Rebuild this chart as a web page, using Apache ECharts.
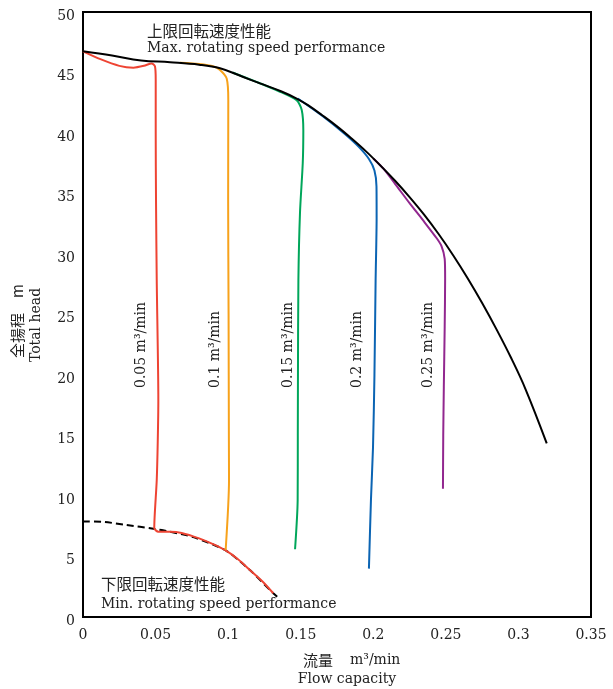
<!DOCTYPE html>
<html>
<head>
<meta charset="utf-8">
<script src="https://cdn.jsdelivr.net/npm/echarts@6/dist/echarts.min.js"></script>
<style>
html,body{margin:0;padding:0;background:#fff;}
#chart{width:613px;height:689px;}
</style>
</head>
<body>
<div id="chart"></div>
<script>
// ---- data ----
const xTickLabels = ['0','0.05','0.1','0.15','0.2','0.25','0.3','0.35'];
const yTickLabels = ['0','5','10','15','20','25','30','35','40','45','50'];

const maxCurve = [[0,46.75],[0.02,46.4],[0.04,46.0],[0.06,45.85],[0.08,45.65],[0.0944,45.35],[0.11,44.65],[0.122,44.1],[0.1364,43.45],[0.1472,42.85],[0.155,42.3],[0.165,41.45],[0.175,40.55],[0.185,39.55],[0.195,38.48],[0.205,37.3],[0.215,36.05],[0.225,34.7],[0.235,33.25],[0.245,31.65],[0.255,29.9],[0.265,28.0],[0.275,25.95],[0.285,23.75],[0.295,21.4],[0.305,18.8],[0.3195,14.35]];
const minCurve = [[0,7.9],[0.015,7.85],[0.03,7.6],[0.0485,7.3],[0.06,7.05],[0.076,6.6],[0.0983,5.5],[0.115,3.88],[0.1311,1.96],[0.134,1.65]];

const flow005 = [[0,46.75],[0.012,46.1],[0.025,45.55],[0.0347,45.4],[0.042,45.55],[0.0473,45.75],[0.0496,45.5],[0.0501,44.4],[0.0501,40],[0.0503,34.5],[0.0508,27.85],[0.0519,17.9],[0.0515,14.5],[0.0508,11.3],[0.0491,7.35],[0.0519,7.05],[0.06,7.05],[0.068,6.95],[0.08,6.5],[0.09,6.0],[0.0983,5.5],[0.107,4.75],[0.115,3.88],[0.1235,2.95],[0.1311,1.96]];
const flow010 = [[0.0668,45.8],[0.08,45.7],[0.09,45.5],[0.0944,45.2],[0.099,44.5],[0.1001,42.7],[0.1,34.5],[0.1003,25],[0.1005,15],[0.1006,11.3],[0.0983,5.55]];
const flow015 = [[0.103,45.0],[0.12,44.2],[0.135,43.45],[0.1472,42.7],[0.1507,41.9],[0.1518,40.2],[0.1514,37.5],[0.1495,33.4],[0.1484,27.85],[0.1481,20],[0.148,15],[0.1479,9.67],[0.1461,5.6]];
const flow020 = [[0.148,42.85],[0.165,41.4],[0.18,39.95],[0.19,38.85],[0.197,37.85],[0.2008,36.9],[0.2022,35.6],[0.2023,33],[0.2016,27.8],[0.2008,20],[0.1998,14],[0.1984,9.7],[0.197,4.0]];
const flow025 = [[0.2,37.9],[0.207,37.05],[0.215,35.8],[0.225,34.2],[0.2345,32.75],[0.2437,31.3],[0.247,30.65],[0.2492,29.6],[0.2495,28],[0.2492,24],[0.2486,19],[0.2482,15],[0.248,10.6]];

const flowLabels = ['0.05 m³/min','0.1 m³/min','0.15 m³/min','0.2 m³/min','0.25 m³/min'];

// ---- chart ----
const SERIF = '"DejaVu Serif", "Liberation Serif", serif';
const CJK = '"Noto Sans CJK JP", sans-serif';
const TXT = '#222';
const chart = echarts.init(document.getElementById('chart'), null, {renderer:'canvas'});

function line(name, data, color, extra) {
  return Object.assign({
    name, type:'line', data, showSymbol:false, smooth:0.25,
    lineStyle:{color, width:2}, itemStyle:{color}, silent:true, animation:false
  }, extra || {});
}

const flowLabelX = [141.5, 215, 288, 357.5, 428];
const graphics = [];
flowLabels.forEach((t,i)=>{
  graphics.push({type:'text', x:flowLabelX[i], y:388, rotation:Math.PI/2,
    style:{text:t, font:'14px '+SERIF, fill:TXT, textAlign:'left', textVerticalAlign:'middle'}});
});
graphics.push(
  {type:'text', x:147, y:31, style:{text:'上限回転速度性能', font:'15.5px '+CJK, fill:TXT, textAlign:'left', textVerticalAlign:'middle'}},
  {type:'text', x:147, y:48, style:{text:'Max. rotating speed performance', font:'14px '+SERIF, fill:TXT, textAlign:'left', textVerticalAlign:'middle'}},
  {type:'text', x:101, y:584, style:{text:'下限回転速度性能', font:'15.5px '+CJK, fill:TXT, textAlign:'left', textVerticalAlign:'middle'}},
  {type:'text', x:101, y:604, style:{text:'Min. rotating speed performance', font:'14px '+SERIF, fill:TXT, textAlign:'left', textVerticalAlign:'middle'}},
  {type:'text', x:17.5, y:321, rotation:Math.PI/2, style:{text:'全揚程　m', font:'15px '+CJK, fill:TXT, textAlign:'center', textVerticalAlign:'middle'}},
  {type:'text', x:36.5, y:325, rotation:Math.PI/2, style:{text:'Total head', font:'14px '+SERIF, fill:TXT, textAlign:'center', textVerticalAlign:'middle'}},
  {type:'text', x:348, y:660, style:{text:'流量　', font:'15px '+CJK, fill:TXT, textAlign:'right', textVerticalAlign:'middle'}},
  {type:'text', x:350, y:660, style:{text:'m³/min', font:'14px '+SERIF, fill:TXT, textAlign:'left', textVerticalAlign:'middle'}},
  {type:'text', x:347, y:679, style:{text:'Flow capacity', font:'14px '+SERIF, fill:TXT, textAlign:'center', textVerticalAlign:'middle'}}
);

chart.setOption({
  animation:false,
  backgroundColor:'#fff',
  grid:{left:83, right:22, top:12, bottom:72, show:true, borderColor:'#000', borderWidth:2, backgroundColor:'transparent'},
  xAxis:{type:'value', min:0, max:0.35, interval:0.05,
    axisLine:{show:false}, axisTick:{show:false}, splitLine:{show:false},
    axisLabel:{margin:11, color:TXT, fontFamily:SERIF, fontSize:14,
      formatter:v=>xTickLabels[Math.round(v/0.05)]}},
  yAxis:{type:'value', min:0, max:50, interval:5,
    axisLine:{show:false}, axisTick:{show:false}, splitLine:{show:false},
    axisLabel:{margin:8, color:TXT, fontFamily:SERIF, fontSize:14,
      formatter:v=>'{v|'+yTickLabels[Math.round(v/5)]+'}',
      rich:{v:{fontFamily:SERIF, fontSize:14, color:TXT, padding:[8,0,0,0]}}}},
  series:[
    line('min', minCurve, '#000', {lineStyle:{color:'#000', width:2, type:[7,4]}, z:1}),
    line('0.05', flow005, '#ee4433', {z:2}),
    line('0.1', flow010, '#f7a21b', {z:2}),
    line('0.15', flow015, '#00a65a', {z:2}),
    line('0.2', flow020, '#0b64b3', {z:2}),
    line('0.25', flow025, '#92278f', {z:2}),
    line('max', maxCurve, '#000', {z:3, smooth:0.4})
  ],
  graphic:graphics
});
</script>
</body>
</html>
